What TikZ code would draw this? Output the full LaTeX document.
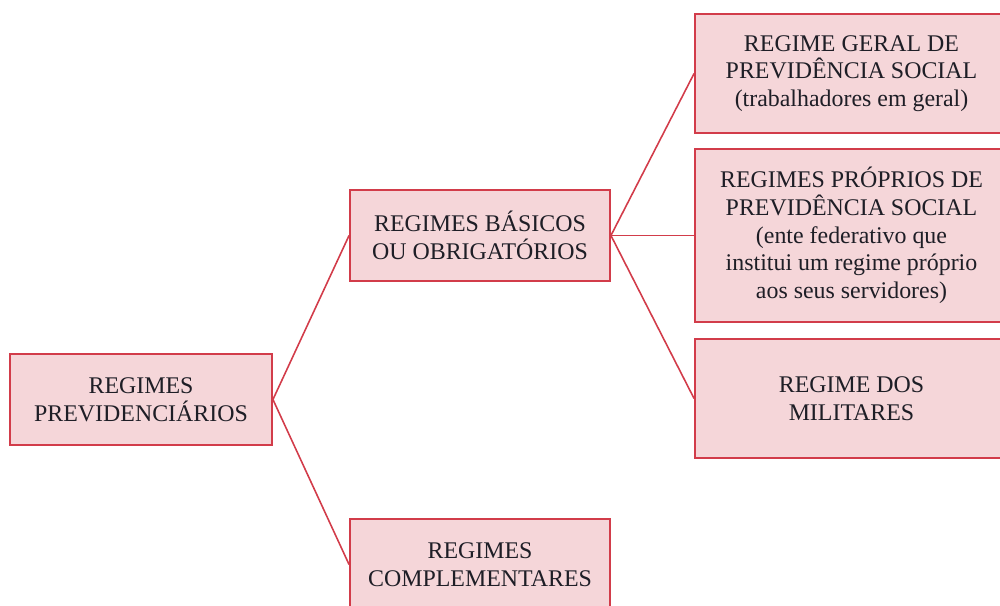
\documentclass[tikz,border=0pt]{standalone}
\usepackage{fontspec}
\setmainfont{Liberation Serif}
\definecolor{boxred}{HTML}{D23C4A}
\definecolor{boxpink}{HTML}{F5D6D9}
\definecolor{inktext}{HTML}{1E1E26}
\begin{document}
\begin{tikzpicture}[
  x=0.02cm, y=-0.02cm,
  box/.style={draw=boxred, fill=boxpink, line width=1.1pt, align=center, inner sep=2pt,
    text=inktext, font=\fontsize{13.6}{15.8}\selectfont},
  link/.style={draw=boxred, line width=0.9pt}
]
\useasboundingbox (0,0) rectangle (1000,605);
\clip (0,0) rectangle (1000,605);

\node[box, minimum width=5.24cm, minimum height=1.82cm] (prev) at (141,399.5) {REGIMES\\PREVIDENCIÁRIOS};

\node[box, minimum width=5.2cm, minimum height=1.82cm] (basic) at (480,235.5) {REGIMES BÁSICOS\\OU OBRIGATÓRIOS};
\node[box, minimum width=5.2cm, minimum height=1.82cm] (compl) at (480,564.5) {REGIMES\\COMPLEMENTARES};

\node[box, minimum width=6.26cm, minimum height=2.38cm] (rgps) at (851.5,73.5) {REGIME GERAL DE\\PREVIDÊNCIA SOCIAL\\(trabalhadores em geral)};
\node[box, minimum width=6.26cm, minimum height=3.46cm] (rpps) at (851.5,235.5) {REGIMES PRÓPRIOS DE\\PREVIDÊNCIA SOCIAL\\(ente federativo que\\institui um regime próprio\\aos seus servidores)};
\node[box, minimum width=6.26cm, minimum height=2.38cm] (mil) at (851.5,398.5) {REGIME DOS\\MILITARES};

\draw[link] (prev.east) -- (basic.west);
\draw[link] (prev.east) -- (compl.west);
\draw[link] (basic.east) -- (rgps.west);
\draw[link] (basic.east) -- (rpps.west);
\draw[link] (basic.east) -- (mil.west);
\end{tikzpicture}
\end{document}
